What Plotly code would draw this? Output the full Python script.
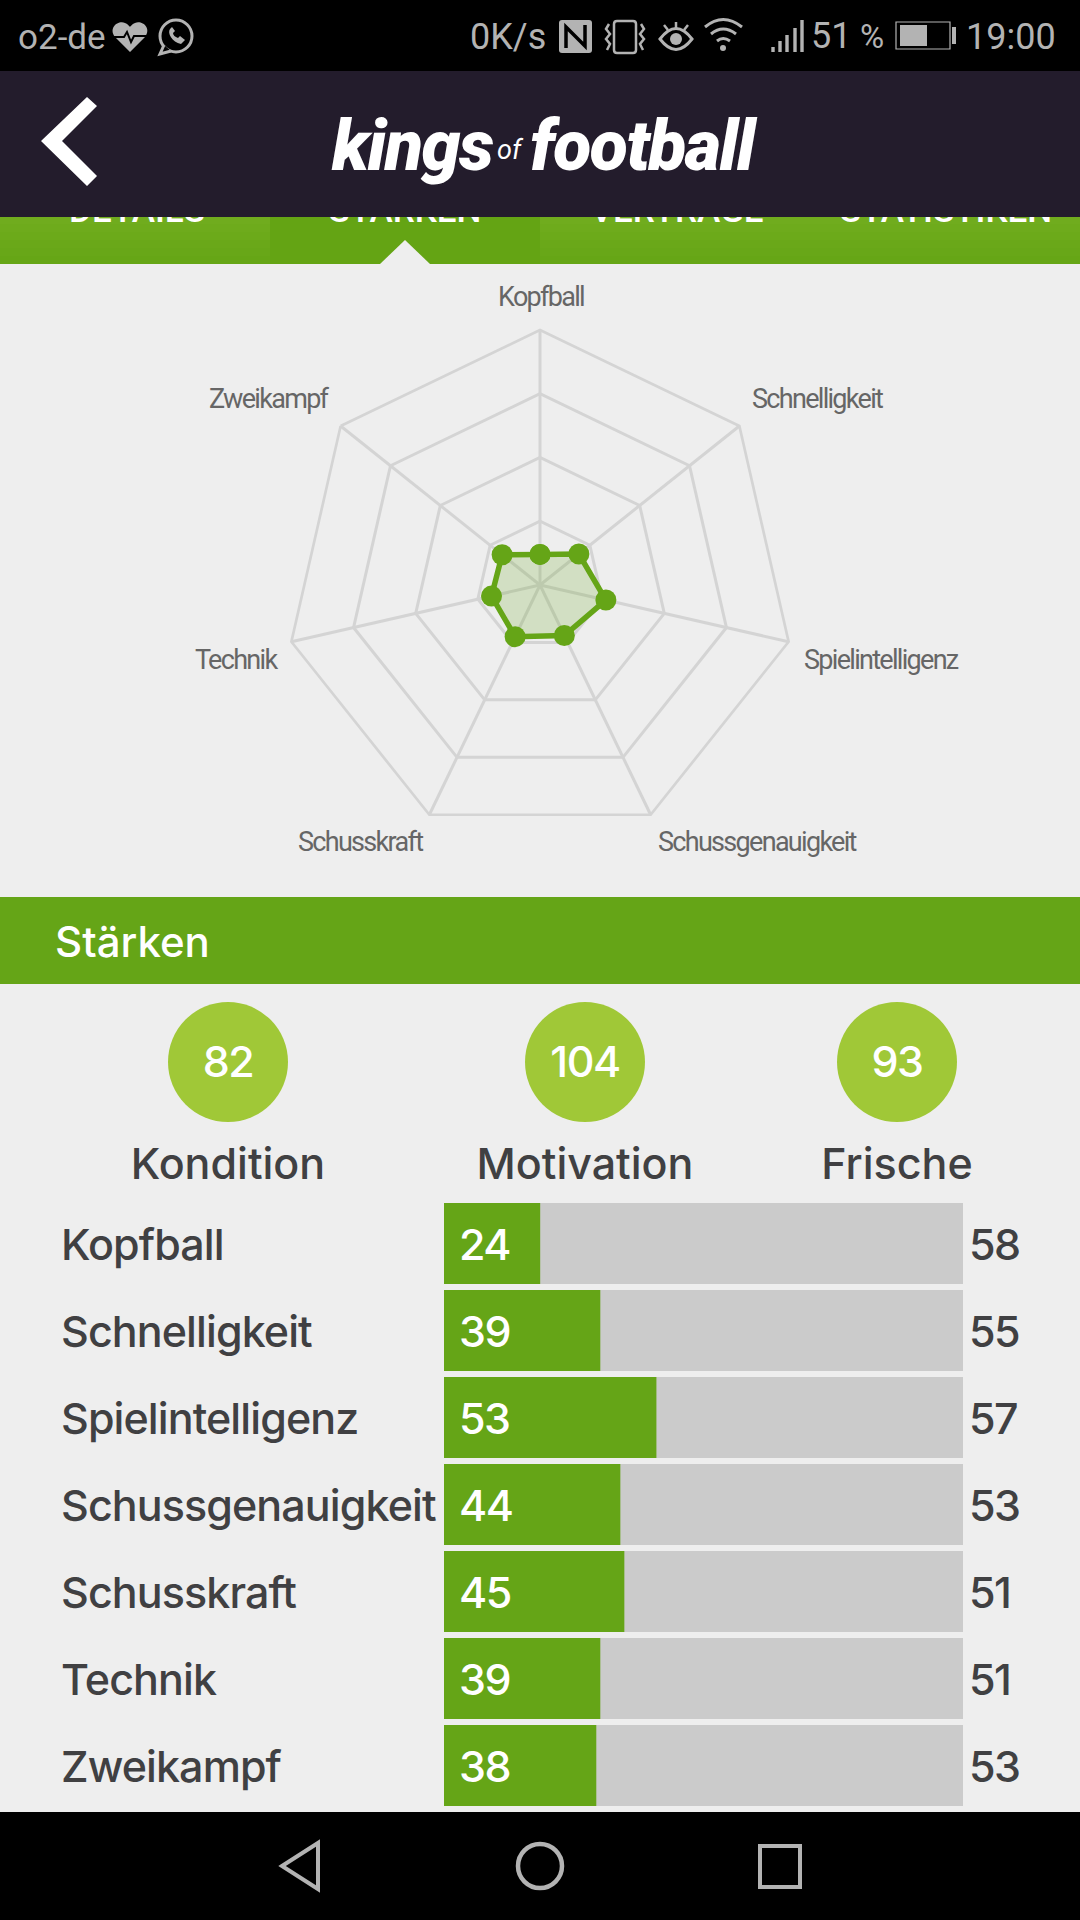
import plotly.graph_objects as go

# chart values
categories = ["Kopfball", "Schnelligkeit", "Spielintelligenz", "Schussgenauigkeit", "Schusskraft", "Technik", "Zweikampf"]
current = [24, 39, 53, 44, 45, 39, 38]
potential = [58, 55, 57, 53, 51, 51, 53]
track_max = 129.5
radar_max = 200
kpi_names = ["Kondition", "Motivation", "Frische"]
kpi_values = [82, 104, 93]
kpi_x = [228, 585, 897]
tab_names = ["DETAILS", "STÄRKEN", "VERTRÄGE", "STATISTIKEN"]
tab_x = [137, 405, 677, 946]
# where the radar labels go on the page: x, y, anchor (same order as categories)
radar_label_x = [541, 750, 802, 656, 425, 280, 332]
radar_label_y = [297, 399, 660, 842, 842, 660, 399]
radar_label_anchor = ["center", "left", "left", "left", "right", "right", "right"]

W, H = 1080, 1920
GREEN = "#65a517"
DARK = "#404042"
LIGHT = "#eeeeee"
ICON = "#b3b3b3"
GRID = "#d4d4d4"
BODY_FONT = "Inter"


def tight(text, px):
    # plotly has no letter spacing setting, but a span style goes through
    return f'<span style="letter-spacing:{px}px">{text}</span>'


def rect(x0, y0, x1, y1, color, layer="below"):
    return dict(type="rect", xref="x3", yref="y3", x0=x0, y0=y0, x1=x1, y1=y1,
                fillcolor=color, line_width=0, layer=layer)


def path(d, fill="rgba(0,0,0,0)", line=None, width=0, layer="above"):
    return dict(type="path", xref="x3", yref="y3", path=d, fillcolor=fill,
                line=dict(color=line or "rgba(0,0,0,0)", width=width), layer=layer)


def oval(x0, y0, x1, y1, fill="rgba(0,0,0,0)", line=None, width=0):
    return dict(type="circle", xref="x3", yref="y3", x0=x0, y0=y0, x1=x1, y1=y1, fillcolor=fill,
                line=dict(color=line or "rgba(0,0,0,0)", width=width), layer="above")


def page_text(x, y, text, size, color, font=BODY_FONT, anchor="center", weight=400, style="normal"):
    return dict(xref="x3", yref="y3", x=x, y=y, text=text, showarrow=False, xanchor=anchor, yanchor="middle",
                font=dict(family=font, size=size, color=color, weight=weight, style=style))


fig = go.Figure()

# bars
fig.add_trace(go.Bar(x=[track_max] * len(categories), y=categories, orientation="h",
                     marker=dict(color="#cbcbcb", line_width=0), hoverinfo="skip"))
fig.add_trace(go.Bar(x=current, y=categories, orientation="h", marker=dict(color=GREEN, line_width=0)))

# radar
fig.add_trace(go.Scatterpolar(
    r=current + current[:1], theta=categories + categories[:1], mode="lines+markers",
    fill="toself", fillcolor="rgba(101,165,23,0.2)",
    line=dict(color=GREEN, width=5.5), marker=dict(color=GREEN, size=21),
))

# tab labels sit under the header shape, so they get cut like in the app
fig.add_trace(go.Scatter(x=tab_x, y=[213] * 4, xaxis="x3", yaxis="y3", mode="text", text=tab_names,
                         textfont=dict(family="Roboto", size=35, color="white", weight=500), hoverinfo="skip"))

# kpi circles
fig.add_trace(go.Scatter(x=kpi_x, y=[1062] * 3, xaxis="x3", yaxis="y3", mode="markers",
                         marker=dict(size=120, color="#a0c837", line_width=0)))
fig.add_trace(go.Scatter(x=kpi_x, y=[1066] * 3, xaxis="x3", yaxis="y3", mode="text",
                         text=[tight(v, -1.5) for v in kpi_values],
                         textfont=dict(family=BODY_FONT, size=43, color="white", weight=500)))
fig.add_trace(go.Scatter(x=kpi_x, y=[1168] * 3, xaxis="x3", yaxis="y3", mode="text", text=kpi_names,
                         textfont=dict(family=BODY_FONT, size=43, color=DARK, weight=500)))

shapes = [
    rect(0, 897, W, 984, GREEN),
    rect(0, 1812, W, H, "black", "above"),
    rect(0, 0, W, 72, "black", "above"),
    rect(0, 71, W, 217, "#231c2c", "above"),
]
# tab strip, fades slightly towards the bottom
stripes = ["#70ac1e", "#6eab1c", "#6caa1a", "#6aa819", "#68a718", "#66a616"]
for i, c in enumerate(stripes):
    shapes.append(rect(0, 216 + i * 8, W, 224 + i * 8, c))
shapes.append(rect(270, 216, 540, 264, "#64a414"))
shapes.append(path("M380,264 L405,240 L430,264 Z", fill=LIGHT, layer="below"))

# back chevron
shapes.append(path("M87,97 L97,106 L62,141 L97,176 L87,186 L41,141 Z", fill="white"))

# status bar icons
shapes += [
    path("M130,52 L115,37 C108,28 118,20 125,23 C128,24 130,27 130,27 C130,27 132,24 135,23 C142,20 152,28 145,37 Z", fill=ICON),
    path("M114,37 L124,37 L127,32 L131,42 L134,36 L146,36", line="black", width=2),
    oval(160, 20, 192, 52, line=ICON, width=3),
    path("M164,45 L160,54 L171,51", fill="black", line=ICON, width=3),
    path("M170,29 C167,33 172,42 181,44 L185,40 L180,36 L178,38 C175,37 173,35 173,33 L175,31 L172,27 Z", fill=ICON),
    # nfc
    path("M562,20 L589,20 Q592,20 592,23 L592,50 Q592,53 589,53 L562,53 Q559,53 559,50 L559,23 Q559,20 562,20 Z", fill=ICON),
    path("M566,48 L566,27 L585,46 L585,25", line="black", width=3.5),
    # vibrate
    path("M617,21 L633,21 Q636,21 636,24 L636,50 Q636,53 633,53 L617,53 Q614,53 614,50 L614,24 Q614,21 617,21 Z", line=ICON, width=2.5),
    path("M609,24 L606,29 L610,34 L606,39 L610,44 L607,50", line=ICON, width=2.5),
    path("M641,24 L644,29 L640,34 L644,39 L640,44 L643,50", line=ICON, width=2.5),
    # eye
    path("M660,39 Q676,18 692,39 Q676,60 660,39 Z", line=ICON, width=3),
    oval(670, 33, 682, 45, fill=ICON),
    path("M676,22 L676,28 M664,25 L668,30 M688,25 L684,30", line=ICON, width=2.5),
    # wifi
    path("M705,27 Q723,12 742,27", line=ICON, width=3),
    path("M711,34 Q723,24 736,34", line=ICON, width=3),
    path("M717,41 Q723,36 730,41", line=ICON, width=3),
    oval(720, 45, 726, 51, fill=ICON),
    # battery
    dict(type="rect", xref="x3", yref="y3", x0=896, y0=22, x1=950, y1=49,
         line=dict(color=ICON, width=1.2), fillcolor="rgba(0,0,0,0)", layer="above"),
    rect(900, 25, 927, 46, ICON, "above"),
    rect(952, 27, 956, 44, ICON, "above"),
    # nav bar
    path("M282,1866 L318,1843 L318,1889 Z", line=ICON, width=4),
    oval(518, 1844, 562, 1888, line=ICON, width=4.5),
    dict(type="rect", xref="x3", yref="y3", x0=760, y0=1846, x1=800, y1=1887,
         line=dict(color=ICON, width=4), fillcolor="rgba(0,0,0,0)", layer="above"),
]
# signal bars
for bx, top in zip([773, 780, 787, 795, 802], [47, 41, 35, 28, 20]):
    shapes.append(rect(bx - 1.7, top, bx + 1.7, 52, ICON, "above"))

annotations = [
    page_text(16, 37, "o2-de", 35, ICON, "Roboto", "left"),
    page_text(468, 37, "0K/s", 36, ICON, "Roboto", "left"),
    page_text(809, 36, "51", 36, ICON, "Roboto", "left"),
    page_text(858, 36, "%", 33, ICON, "Roboto", "left"),
    page_text(964, 37, "19:00", 36, ICON, "Roboto", "left"),
    page_text(329, 146, tight("kings", -1.5), 70, "white", "Roboto", "left", 900, "italic"),
    page_text(495, 150, "of", 27, "white", "Roboto", "left", 400, "italic"),
    page_text(528, 146, tight("football", -1.5), 70, "white", "Roboto", "left", 900, "italic"),
    page_text(53, 941, "Stärken", 42, "white", weight=500, anchor="left"),
]
# radar labels
for cat, lx, ly, la in zip(categories, radar_label_x, radar_label_y, radar_label_anchor):
    annotations.append(page_text(lx, ly, tight(cat, -1.7), 27, "#666666", "Roboto", la))
# row texts follow the bar axes
row_font = dict(family=BODY_FONT, size=43, color=DARK, weight=500)
for cat, cur, pot in zip(categories, current, potential):
    annotations.append(dict(xref="paper", yref="y", x=59 / W, y=cat, text=tight(cat, -0.9), showarrow=False,
                            xanchor="left", font=row_font))
    annotations.append(dict(xref="x", yref="y", x=0, y=cat, text=tight(cur, -1.5), showarrow=False, xanchor="left",
                            xshift=13, font=dict(family=BODY_FONT, size=43, color="white", weight=500)))
    annotations.append(dict(xref="x", yref="y", x=track_max, y=cat, text=tight(pot, -1.5), showarrow=False,
                            xanchor="left", xshift=4, font=row_font))

fig.update_layout(
    width=W, height=H, margin=dict(l=0, r=0, t=0, b=0), showlegend=False,
    paper_bgcolor=LIGHT, plot_bgcolor="rgba(0,0,0,0)", barmode="overlay", bargap=6 / 87,
    shapes=shapes, annotations=annotations,
    xaxis=dict(domain=[444 / W, 963 / W], range=[0, track_max], visible=False, fixedrange=True),
    yaxis=dict(domain=[1 - 1809 / H, 1 - 1200 / H], range=[6.5, -0.5], type="category",
               categoryorder="array", categoryarray=categories, visible=False, fixedrange=True),
    xaxis3=dict(domain=[0, 1], range=[0, W], visible=False, fixedrange=True),
    yaxis3=dict(domain=[0, 1], range=[H, 0], visible=False, fixedrange=True),
    polar=dict(
        domain=dict(x=[285 / W, 795 / W], y=[1 - 840 / H, 1 - 330 / H]),
        bgcolor="rgba(0,0,0,0)", gridshape="linear",
        radialaxis=dict(range=[0, radar_max], dtick=50, showticklabels=False, ticks="", showline=False,
                        gridcolor=GRID, gridwidth=2.7),
        angularaxis=dict(direction="clockwise", rotation=90, type="category", categoryorder="array",
                         categoryarray=categories, showticklabels=False, ticks="",
                         gridcolor=GRID, gridwidth=2.7, linecolor=GRID, linewidth=2.7),
    ),
)

# the page keeps the browser's default body margin otherwise
fig.write_html("out.html", config=dict(displayModeBar=False), post_script="document.body.style.margin='0';")
